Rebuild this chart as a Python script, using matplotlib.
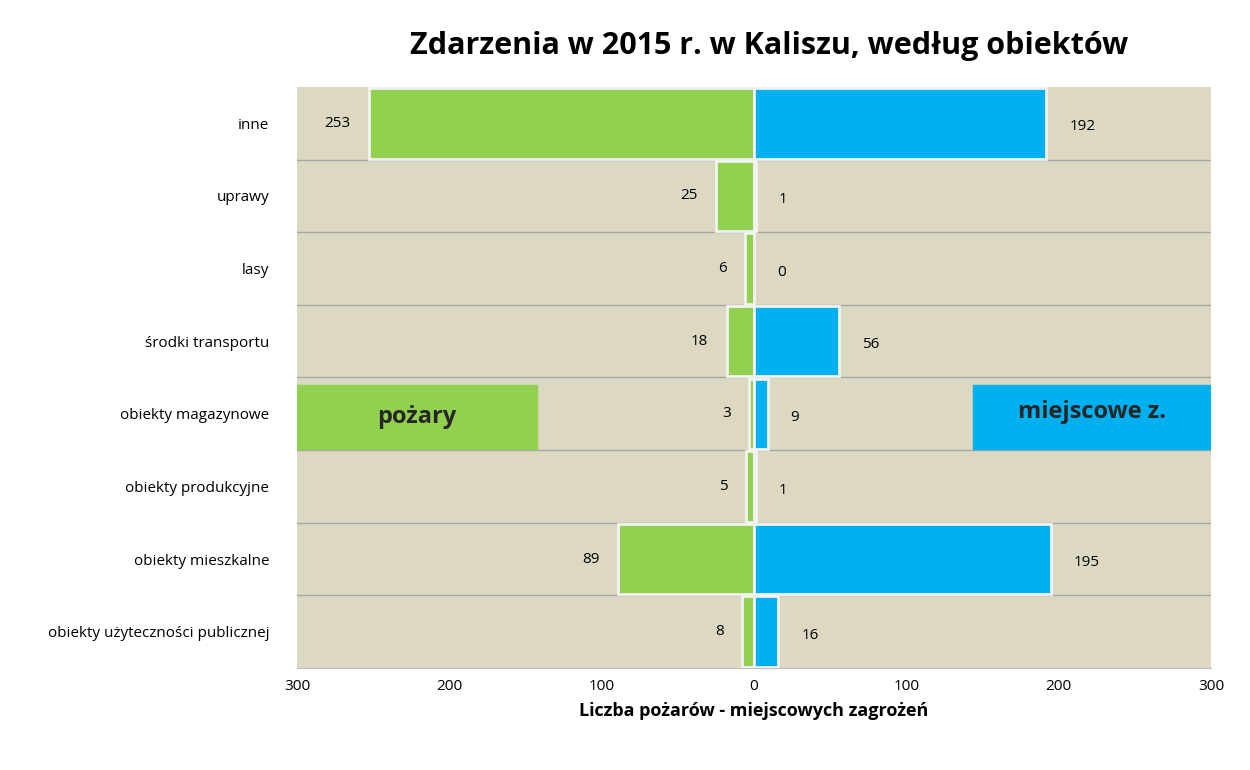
import matplotlib
matplotlib.use("Agg")
import matplotlib.pyplot as plt
from matplotlib.patches import Rectangle
from matplotlib.ticker import FixedLocator, FuncFormatter

categories = ["obiekty użyteczności publicznej", "obiekty mieszkalne", "obiekty produkcyjne",
              "obiekty magazynowe", "środki transportu", "lasy", "uprawy", "inne"]
pozary = [8, 89, 5, 3, 18, 6, 25, 253]
miejscowe = [16, 195, 1, 9, 56, 0, 1, 192]
xticks = [-300, -200, -100, 0, 100, 200, 300]

plt.rcParams["font.family"] = "Open Sans"
fig = plt.figure(figsize=(12.5, 7.7), dpi=100)
ax = fig.add_axes([0.2376, 0.1325, 0.7312, 0.7545])
ax.set_facecolor("#DDD8C2")
green, blue = "#92D050", "#00B0F0"
y = list(range(len(categories)))
ax.barh(y, [-v for v in pozary], height=0.97, color=green, edgecolor="#F2F2F2", linewidth=2, zorder=3)
ax.barh(y, miejscowe, height=0.97, color=blue, edgecolor="#F2F2F2", linewidth=2, zorder=3)
for i in y:
    ax.text(-pozary[i] - 12, i, str(pozary[i]), ha="right", va="center", fontsize=11, zorder=4)
    ax.text(miejscowe[i] + 15, i - 0.05, str(miejscowe[i]), ha="left", va="center", fontsize=11, zorder=4)
ax.set_xlim(-300, 300)
ax.set_ylim(-0.5, len(categories) - 0.5)
ax.set_yticks(y)
ax.set_yticklabels(categories, fontsize=11)
ax.xaxis.set_major_locator(FixedLocator(xticks))
ax.xaxis.set_major_formatter(FuncFormatter(lambda v, p: f"{abs(int(v))}"))
ax.tick_params(axis="x", labelsize=11, length=0, pad=8)
ax.tick_params(axis="y", length=0, pad=20)
for b in [i + 0.5 for i in y[:-1]]:
    ax.axhline(b, color="#A6A6A6", linewidth=1, zorder=2)
for s in ax.spines.values():
    s.set_visible(False)
ax.spines["bottom"].set_visible(True)
ax.spines["bottom"].set_color("#BFBFBF")
ax.axvline(0, color="#D9D9D9", linewidth=1, zorder=1)
ax.add_patch(Rectangle((0, 0.377), 0.2626, 0.110, transform=ax.transAxes, color=green, zorder=5))
ax.add_patch(Rectangle((0.7396, 0.377), 0.2604, 0.110, transform=ax.transAxes, color=blue, zorder=5))
ax.text(0.1313, 0.432, "pożary", transform=ax.transAxes, ha="center", va="center", fontsize=17, fontweight="bold", color="#262626", zorder=6)
ax.text(0.8698, 0.44, "miejscowe z.", transform=ax.transAxes, ha="center", va="center", fontsize=17, fontweight="bold", color="#262626", zorder=6)
ax.set_xlabel("Liczba pożarów - miejscowych zagrożeń", fontsize=13, fontweight="bold", labelpad=6)
fig.text(0.615, 0.94, "Zdarzenia w 2015 r. w Kaliszu, według obiektów", ha="center", va="center", fontsize=22, fontweight="bold")
fig.savefig("out.png", dpi=100, facecolor="white")
